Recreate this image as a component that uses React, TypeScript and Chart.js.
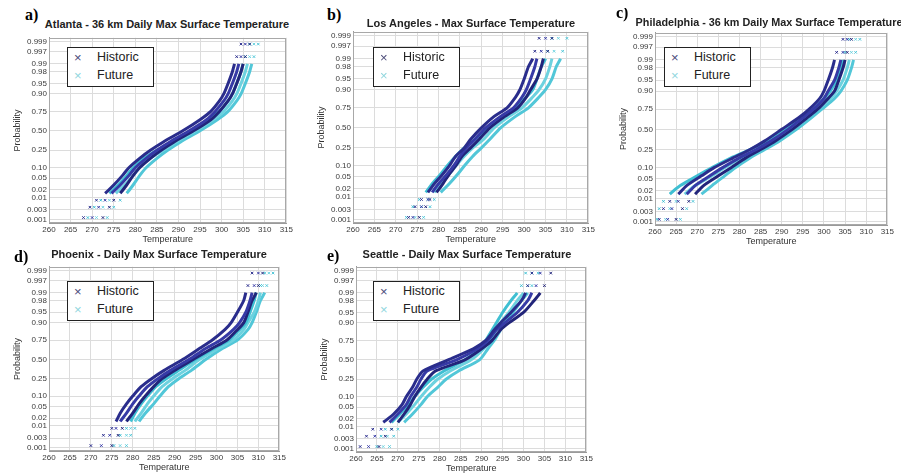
import React, { useEffect, useRef } from "react";
import { Chart, registerables } from "chart.js";

Chart.register(...registerables);

// ---------------- data ----------------
// cumulative probability levels at which each ensemble curve is read
const PROB_LEVELS = [0.0013, 0.004, 0.008, 0.015, 0.03, 0.06, 0.1, 0.17, 0.25, 0.35, 0.5, 0.65, 0.75, 0.85, 0.9, 0.95, 0.98, 0.99, 0.995, 0.9987];
const PROB_TICKS = [0.001, 0.003, 0.01, 0.02, 0.05, 0.1, 0.25, 0.5, 0.75, 0.9, 0.95, 0.98, 0.99, 0.997, 0.999];
const PROB_TICK_LABELS = ["0.001", "0.003", "0.01", "0.02", "0.05", "0.10", "0.25", "0.50", "0.75", "0.90", "0.95", "0.98", "0.99", "0.997", "0.999"];
const TEMP_TICKS = [260, 265, 270, 275, 280, 285, 290, 295, 300, 305, 310, 315];
const SERIES_NAMES = ["Historic", "Future"];

// Atlanta (temperature, K, at each PROB_LEVELS entry)
const ATL_HISTORIC = [
  [268, 269.5, 271, 273, 275, 277, 278.5, 281, 283.5, 286.5, 291, 295, 297.5, 299.5, 300.5, 301.5, 302.5, 303, 303.5, 304.5],
  [270, 271.5, 273, 274.5, 276.5, 278.5, 280, 282.5, 285, 288, 292.5, 296.5, 298.5, 300.5, 301.5, 302.5, 303.5, 304, 304.5, 305.5],
  [272.5, 274, 275, 276.5, 278, 279.5, 281, 283.5, 286, 289, 293.5, 297.5, 299.5, 301.5, 302.5, 303.5, 304.5, 305, 305.5, 306.5],
];
const ATL_FUTURE = [
  [269, 270.5, 272, 274, 276, 278, 279.5, 282, 285, 288.5, 293, 297, 299.5, 301.5, 302.5, 303.5, 304.5, 305, 305.5, 306.5],
  [271, 272.5, 274, 275.5, 277.5, 279.5, 281, 283.5, 286.5, 289.5, 294, 298, 300.5, 302.5, 303.5, 304.5, 305.5, 306, 306.5, 307.5],
  [273.5, 275, 276.5, 278, 279.5, 281, 282.5, 285, 287.5, 290.5, 295, 299, 301.5, 303.5, 304.5, 305.5, 306.5, 307, 307.5, 308.5],
];

// Los Angeles
const LA_HISTORIC = [
  [273, 274.5, 276, 277.5, 279, 281, 282.5, 284, 286, 287.5, 290, 293, 296, 298, 299, 300, 301, 302, 302.5, 303.5],
  [274, 276, 277.5, 278.5, 280, 282, 283.5, 285, 286.5, 288.5, 291, 294.5, 297.5, 299.5, 300.5, 301.5, 302.5, 303, 304, 305],
  [275.5, 277, 278, 279.5, 281, 282.5, 284, 285.5, 287.5, 289.5, 292, 295.5, 298.5, 300.5, 301.5, 303, 304, 304.5, 305.5, 306.5],
];
const LA_FUTURE = [
  [272.5, 274, 275.5, 277, 278.5, 280.5, 282, 284, 286, 288.5, 291.5, 295, 298, 300.5, 302, 303, 304, 305, 305.5, 306.5],
  [274.5, 276, 277.5, 279, 280.5, 282.5, 284, 286, 288, 290.5, 293, 296.5, 299.5, 302, 303.5, 305, 306, 306.5, 307, 308],
  [276.5, 278, 279, 280.5, 282.5, 284.5, 286, 288, 290, 292, 294.5, 298, 301, 303.5, 305, 306.5, 307.5, 308.5, 309, 310],
];

// Philadelphia
const PHL_HISTORIC = [
  [261, 262, 263.5, 265.5, 267.5, 271, 274, 278.5, 282.5, 286, 290, 294, 296.5, 299, 300, 301, 302, 302.5, 303, 304.5],
  [263, 264, 265.5, 267.5, 269.5, 273, 276, 280, 284, 287.5, 291.5, 295, 297.5, 300, 301, 302.5, 303.5, 304, 304.5, 305.5],
  [265, 266.5, 268, 269.5, 271.5, 275, 278, 281.5, 285, 288.5, 292.5, 296, 298.5, 301, 302.5, 303.5, 304.5, 305, 305.5, 306.5],
];
const PHL_FUTURE = [
  [260.5, 261, 262, 263.5, 266, 270, 273.5, 278, 282.5, 286.5, 290.5, 294.5, 297.5, 300, 301.5, 303, 304, 304.5, 305, 306],
  [262.5, 263.5, 265, 267, 269.5, 273.5, 276.5, 280.5, 284.5, 288, 292, 295.5, 298.5, 301.5, 303, 304.5, 305.5, 306, 306.5, 307.5],
  [266, 267.5, 269, 271, 273.5, 276.5, 279, 282.5, 286, 289.5, 293.5, 297, 299.5, 302.5, 304, 305.5, 306.5, 307, 307.5, 308.5],
];

// Phoenix
const PHX_HISTORIC = [
  [270, 273, 275, 276, 277, 278.5, 280, 282, 284.5, 287.5, 292, 296, 299, 302, 303.5, 305, 306.5, 307, 307.5, 308.5],
  [272.5, 274.5, 276, 277, 278.5, 280, 281.5, 283.5, 286, 289, 293.5, 297.5, 301, 304, 305.5, 307, 308, 308.5, 309, 310],
  [275, 276.5, 277.5, 278.5, 280, 281.5, 283, 285, 287, 290, 294.5, 299, 302.5, 305, 306.5, 307.5, 308.5, 309.5, 310, 311],
];
const PHX_FUTURE = [
  [275.5, 277, 278.5, 279.5, 280.5, 282, 283.5, 285.5, 288, 291, 295, 299.5, 303, 305.5, 307, 308, 309, 309.5, 310.5, 311.5],
  [277, 278.5, 279.5, 280.5, 282, 283.5, 285, 287, 289.5, 292.5, 296, 300.5, 304, 306.5, 307.5, 309, 310, 310.5, 311, 312.5],
  [278.5, 279.5, 280.5, 281.5, 283, 285, 286.5, 288.5, 291, 294, 297.5, 301.5, 305, 307.5, 308.5, 309.5, 310.5, 311.5, 312, 313.5],
];

// Seattle
const SEA_HISTORIC = [
  [261, 262.5, 264, 266.5, 269, 271, 272, 273.5, 274.5, 276, 282, 288, 291, 293, 294.5, 297, 299.5, 300.5, 301, 302],
  [263, 264.5, 266, 268, 270, 272, 273, 274.5, 275.5, 277, 284, 289, 291.5, 293.5, 295.5, 298.5, 301, 302, 303, 304],
  [265.5, 267, 268.5, 270, 271.5, 273, 274, 275.5, 277, 279, 286, 290, 292.5, 294.5, 296.5, 300, 302.5, 304, 305, 306.5],
];
const SEA_FUTURE = [
  [265, 266, 267, 268.5, 270.5, 272.5, 274, 276, 278, 281, 286, 289.5, 291, 292.5, 293.5, 295, 297, 298.5, 299.5, 300.5],
  [266.5, 267.5, 268.5, 270, 272, 274, 275.5, 277.5, 279.5, 282.5, 287.5, 290.5, 292, 293.5, 294.5, 296.5, 298.5, 300, 301, 302],
  [268, 269, 270, 271.5, 273.5, 275.5, 277, 279.5, 281.5, 284.5, 289.5, 291.5, 293, 294.5, 295.5, 297.5, 299.5, 301, 302, 303.5],
];

// ---------------- layout & style ----------------
const FONT = "'Liberation Sans', Arial, Helvetica, sans-serif";
const HIST_COLORS = ["#2a2d8c", "#363aa6", "#22257a"];
const FUT_COLORS = ["#3fbfd2", "#6dd2df", "#52c7d8"];
const LINE_START = 3; // first level drawn as a continuous curve
const LINE_END = 17; // last level drawn as a continuous curve
const Y_MIN = -3.2;
const Y_MAX = 3.23;
const YW = 37; // width of the y axis box
const XH = 22; // height of the x axis box
const PAD_TOP = 6;
const PAD_RIGHT = 8;

type PanelCfg = {
  tag: string;
  title: string;
  historic: number[][];
  future: number[][];
  area: { l: number; r: number; t: number; b: number };
  tagPos: { x: number; y: number };
  titlePos: { x: number; y: number; size: number };
  legendPos: { x: number; y: number };
};

const PANELS: PanelCfg[] = [
  {
    tag: "a)", title: "Atlanta - 36 km Daily Max Surface Temperature",
    historic: ATL_HISTORIC, future: ATL_FUTURE,
    area: { l: 49, r: 287, t: 37, b: 223 },
    tagPos: { x: 25, y: 15 }, titlePos: { x: 167, y: 25, size: 11 }, legendPos: { x: 67, y: 47 },
  },
  {
    tag: "b)", title: "Los Angeles - Max Surface Temperature",
    historic: LA_HISTORIC, future: LA_FUTURE,
    area: { l: 353, r: 589, t: 31, b: 223 },
    tagPos: { x: 327, y: 15 }, titlePos: { x: 471, y: 24, size: 11 }, legendPos: { x: 373, y: 47 },
  },
  {
    tag: "c)", title: "Philadelphia - 36 km Daily Max Surface Temperature",
    historic: PHL_HISTORIC, future: PHL_FUTURE,
    area: { l: 655, r: 888, t: 32, b: 225 },
    tagPos: { x: 616, y: 13 }, titlePos: { x: 769, y: 23, size: 10.8 }, legendPos: { x: 664, y: 47 },
  },
  {
    tag: "d)", title: "Phoenix - Daily Max Surface Temperature",
    historic: PHX_HISTORIC, future: PHX_FUTURE,
    area: { l: 49, r: 280, t: 266, b: 451 },
    tagPos: { x: 14, y: 257 }, titlePos: { x: 159, y: 255, size: 11 }, legendPos: { x: 67, y: 281 },
  },
  {
    tag: "e)", title: "Seattle - Daily Max Surface Temperature",
    historic: SEA_HISTORIC, future: SEA_FUTURE,
    area: { l: 356, r: 587, t: 266, b: 452 },
    tagPos: { x: 327, y: 256 }, titlePos: { x: 467, y: 255, size: 11 }, legendPos: { x: 373, y: 281 },
  },
];

// inverse standard normal CDF (Acklam) — maps probabilities to the normal-probability axis
function normInv(p: number): number {
  const a = [-3.969683028665376e1, 2.209460984245205e2, -2.759285104469687e2, 1.38357751867269e2, -3.066479806614716e1, 2.506628277459239];
  const b = [-5.447609879822406e1, 1.615858368580409e2, -1.556989798598866e2, 6.680131188771972e1, -1.328068155288572e1];
  const c = [-7.784894002430293e-3, -3.223964580411365e-1, -2.400758277161838, -2.549671875685474, 4.374664141464968, 2.938163982698783];
  const d = [7.784695709041462e-3, 3.224671290700398e-1, 2.445134137142996, 3.754408661907416];
  const plow = 0.02425;
  if (p < plow) {
    const q = Math.sqrt(-2 * Math.log(p));
    return (((((c[0] * q + c[1]) * q + c[2]) * q + c[3]) * q + c[4]) * q + c[5]) / ((((d[0] * q + d[1]) * q + d[2]) * q + d[3]) * q + 1);
  }
  if (p <= 1 - plow) {
    const q = p - 0.5;
    const r = q * q;
    return ((((((a[0] * r + a[1]) * r + a[2]) * r + a[3]) * r + a[4]) * r + a[5]) * q) / (((((b[0] * r + b[1]) * r + b[2]) * r + b[3]) * r + b[4]) * r + 1);
  }
  const q = Math.sqrt(-2 * Math.log(1 - p));
  return -(((((c[0] * q + c[1]) * q + c[2]) * q + c[3]) * q + c[4]) * q + c[5]) / ((((d[0] * q + d[1]) * q + d[2]) * q + d[3]) * q + 1);
}

const boxPlugin = {
  id: "axesBox",
  afterDraw(chart: any) {
    const { ctx, chartArea } = chart;
    ctx.save();
    ctx.strokeStyle = "#a8a8a8";
    ctx.lineWidth = 1;
    ctx.strokeRect(Math.round(chartArea.left) + 0.5, Math.round(chartArea.top) + 0.5, Math.round(chartArea.right - chartArea.left) - 1, Math.round(chartArea.bottom - chartArea.top) - 1);
    ctx.restore();
  },
};

function makeDataset(temps: number[], color: string, label: string, order: number) {
  return {
    label,
    data: temps.map((t, i) => ({ x: t, y: normInv(PROB_LEVELS[i]) })),
    borderColor: color,
    backgroundColor: color,
    borderWidth: 3,
    tension: 0.25,
    order,
    pointStyle: "crossRot",
    pointRadius: (ctx: any) => (ctx.dataIndex < LINE_START || ctx.dataIndex > LINE_END ? 1.8 : 0),
    pointBorderWidth: 1,
    pointBorderColor: color,
    segment: {
      borderColor: (ctx: any) => (ctx.p0DataIndex < LINE_START || ctx.p1DataIndex > LINE_END ? "rgba(0,0,0,0)" : color),
    },
  };
}

function Panel({ cfg }: { cfg: PanelCfg }) {
  const ref = useRef<HTMLCanvasElement>(null);
  const { l, r, t, b } = cfg.area;
  const W = r - l + YW + PAD_RIGHT;
  const H = b - t + PAD_TOP + XH;
  useEffect(() => {
    if (!ref.current) return;
    const datasets: any[] = [];
    cfg.future.forEach((c, i) => datasets.push(makeDataset(c, FUT_COLORS[i % 3], SERIES_NAMES[1], 2)));
    cfg.historic.forEach((c, i) => datasets.push(makeDataset(c, HIST_COLORS[i % 3], SERIES_NAMES[0], 1)));
    const tickFont = { family: FONT, size: 8 };
    const chart = new Chart(ref.current, {
      type: "line",
      data: { datasets },
      plugins: [boxPlugin],
      options: {
        responsive: false,
        animation: false,
        devicePixelRatio: 1,
        layout: { padding: { left: 0, right: PAD_RIGHT, top: PAD_TOP, bottom: 0 } },
        plugins: { legend: { display: false }, tooltip: { enabled: false }, title: { display: false } },
        scales: {
          x: {
            type: "linear",
            min: 260,
            max: 315,
            afterBuildTicks: (s: any) => { s.ticks = TEMP_TICKS.map((v) => ({ value: v })); },
            afterFit: (s: any) => { s.height = XH; },
            ticks: { font: tickFont, color: "#3a3a3a", padding: 2, autoSkip: false, maxRotation: 0 },
            grid: { color: "#dcdcdc", drawTicks: false },
            border: { color: "#9a9a9a" },
            title: { display: true, text: "Temperature", font: { family: FONT, size: 9 }, color: "#333", padding: 0 },
          },
          y: {
            type: "linear",
            min: Y_MIN,
            max: Y_MAX,
            afterBuildTicks: (s: any) => { s.ticks = PROB_TICKS.map((p) => ({ value: normInv(p) })); },
            afterFit: (s: any) => { s.width = YW; },
            ticks: {
              font: tickFont, color: "#3a3a3a", padding: 2, autoSkip: false,
              callback: (_v: any, i: number) => PROB_TICK_LABELS[i],
            },
            grid: { color: "#dcdcdc", drawTicks: false },
            border: { color: "#9a9a9a" },
            title: { display: true, text: "Probability", font: { family: FONT, size: 9 }, color: "#333", padding: 0 },
          },
        },
      } as any,
    });
    return () => chart.destroy();
  }, []);

  const lp = cfg.legendPos;
  return (
    <>
      <canvas
        ref={ref}
        width={W}
        height={H}
        style={{ position: "absolute", left: l - YW, top: t - PAD_TOP, width: W, height: H }}
      />
      <div style={{ position: "absolute", left: cfg.tagPos.x, top: cfg.tagPos.y - 8, fontFamily: "'Liberation Serif', 'Times New Roman', serif", fontWeight: "bold", fontSize: 16, lineHeight: "16px", color: "#000" }}>
        {cfg.tag}
      </div>
      <div style={{ position: "absolute", left: cfg.titlePos.x, top: cfg.titlePos.y - 7, transform: "translateX(-50%)", whiteSpace: "nowrap", fontFamily: FONT, fontWeight: "bold", fontSize: cfg.titlePos.size, lineHeight: "13px", color: "#222" }}>
        {cfg.title}
      </div>
      <div style={{ position: "absolute", left: lp.x, top: lp.y, width: 87, height: 40, border: "1px solid #222", background: "#fff", fontFamily: FONT, fontSize: 12.5, color: "#222", boxSizing: "border-box" }}>
        <div style={{ position: "absolute", left: 6, top: 2, color: "#4a4a78", fontSize: 13 }}>×</div>
        <div style={{ position: "absolute", left: 29, top: 2 }}>{SERIES_NAMES[0]}</div>
        <div style={{ position: "absolute", left: 6, top: 20, color: "#8fd6dd", fontSize: 13 }}>×</div>
        <div style={{ position: "absolute", left: 29, top: 20 }}>{SERIES_NAMES[1]}</div>
      </div>
    </>
  );
}

export default function App() {
  return (
    <div style={{ position: "relative", width: 909, height: 474 }}>
      <div style={{ position: "absolute", left: -8, top: -8, width: 909, height: 474 }}>
        {PANELS.map((p) => (
          <Panel key={p.tag} cfg={p} />
        ))}
      </div>
    </div>
  );
}
